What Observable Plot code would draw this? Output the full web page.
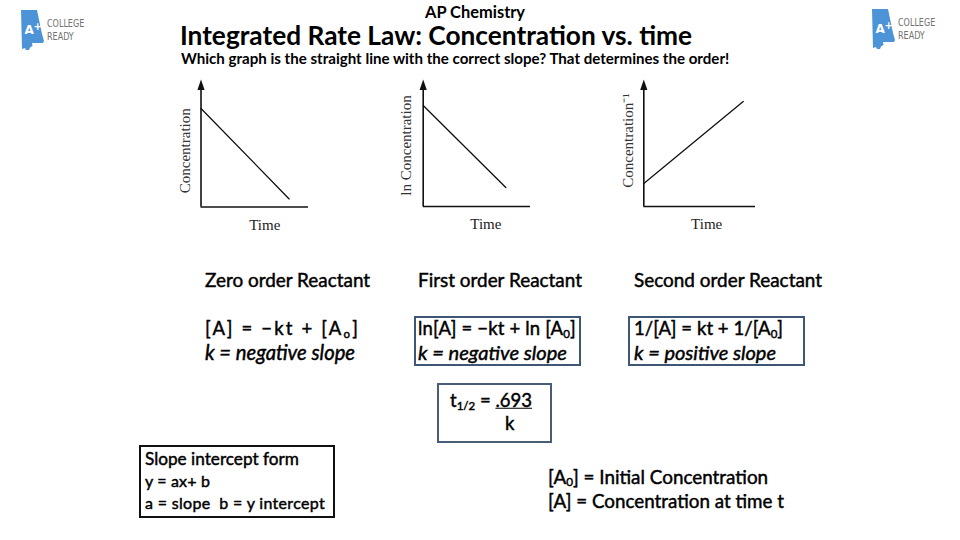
<!DOCTYPE html>
<html>
<head>
<meta charset="utf-8">
<script src="https://cdn.jsdelivr.net/npm/d3@7"></script>
<script src="https://cdn.jsdelivr.net/npm/@observablehq/plot@0.6"></script>
<style>
  html, body { margin: 0; padding: 0; background: #fff; }
  #slide { position: relative; width: 960px; height: 540px; overflow: hidden; background: #fff; font-family: Lato, "Open Sans", sans-serif; color: #000; }
  .t { position: absolute; white-space: nowrap; line-height: 1; transform: translateY(-50%); font-weight: normal; -webkit-text-stroke: 0.45px #000; }
  .t.b { font-weight: bold; -webkit-text-stroke: 0; }
  .box { position: absolute; box-sizing: border-box; }
  .chart { position: absolute; }
  .logo { position: absolute; }
  .logo .lt { position: absolute; font-family: "DejaVu Sans Condensed", "DejaVu Sans", sans-serif; color: #727272; font-size: 10.5px; line-height: 1; transform: scaleX(0.85); transform-origin: left top; white-space: nowrap; }
  sub { font-size: 0.62em; vertical-align: -0.25em; line-height: 0; }
</style>
</head>
<body>
<div id="slide"></div>
<script>
// ---- data ----
const timeZero = [0, 0.82];
const concZero = [0.817, 0.067];
const timeFirst = [0, 0.77];
const lnConcFirst = [0.842, 0.158];
const timeSecond = [0, 0.89];
const invConcSecond = [0.192, 0.875];
const xLabel = "Time";
const yLabels = ["Concentration", "ln Concentration", "Concentration\u207B\u00B9"];
const axisStart = 0;
const axisEnd = 1;

const slide = document.getElementById("slide");

// narrow filled arrowhead symbol
const arrowHead = {
  draw(context) {
    context.moveTo(0, -7);
    context.lineTo(3.6, 3.5);
    context.lineTo(-3.6, 3.5);
    context.closePath();
  }
};

function makeChart(cfg) {
  const data = cfg.t.map((t, i) => ({t, v: cfg.v[i]}));
  const svg = Plot.plot({
    width: cfg.width,
    height: cfg.height,
    marginLeft: cfg.mL,
    marginRight: cfg.mR,
    marginTop: cfg.mT,
    marginBottom: cfg.mB,
    x: {domain: [axisStart, axisEnd], axis: null},
    y: {domain: [axisStart, axisEnd], axis: null},
    style: {fontFamily: "'Liberation Serif', 'Times New Roman', serif", fontSize: "15px", color: "#111", background: "transparent", overflow: "visible"},
    marks: [
      Plot.ruleY([axisStart], {stroke: "#111", strokeWidth: 1.6}),
      Plot.ruleX([axisStart], {y1: axisStart, y2: axisEnd, stroke: "#111", strokeWidth: 1.6}),
      Plot.dot([{x: axisStart, y: axisEnd}], {x: "x", y: "y", symbol: arrowHead, fill: "#111", stroke: "none"}),
      Plot.line(data, {x: "t", y: "v", stroke: "#111", strokeWidth: 1.3}),
      Plot.text([xLabel], {frameAnchor: "bottom", textAnchor: "middle", lineAnchor: "middle", dy: 18, dx: cfg.tdx, fill: "#222", fontSize: 15}),
      Plot.text([cfg.ylabel], {frameAnchor: "left", textAnchor: "middle", lineAnchor: "middle", rotate: -90, dx: cfg.ldx, dy: cfg.ldy, fill: "#333", fontSize: 15})
    ]
  });
  const div = document.createElement("div");
  div.className = "chart";
  div.style.left = cfg.left + "px";
  div.style.top = cfg.top + "px";
  div.appendChild(svg);
  slide.appendChild(div);
}

makeChart({left: 170, top: 70, width: 150, height: 170, mL: 30.5, mR: 12, mT: 16, mB: 33.5, t: timeZero, v: concZero, ylabel: yLabels[0], tdx: 10, ldx: -16, ldy: 4});
makeChart({left: 390, top: 70, width: 150, height: 170, mL: 32.7, mR: 10, mT: 16, mB: 34, t: timeFirst, v: lnConcFirst, ylabel: yLabels[1], tdx: 9, ldx: -17, ldy: -1});
makeChart({left: 610, top: 70, width: 160, height: 170, mL: 33.3, mR: 15, mT: 16, mB: 34, t: timeSecond, v: invConcSecond, ylabel: yLabels[2], tdx: 7, ldx: -16, ldy: -6});

// ---- texts ----
// mode "size": scale font size to width; "ws": stretch word spacing; "ls": stretch letter spacing
function text(html, x, cy, w, size, cls, mode, extra) {
  const d = document.createElement("div");
  d.className = "t" + (cls ? " " + cls : "");
  d.innerHTML = html;
  d.style.left = x + "px";
  d.style.top = cy + "px";
  d.style.fontSize = size + "px";
  if (extra) Object.assign(d.style, extra);
  d.dataset.w = w;
  d.dataset.mode = mode || "size";
  slide.appendChild(d);
  return d;
}
function box(x, y, w, h, color) {
  const b = document.createElement("div");
  b.className = "box";
  Object.assign(b.style, {left: x + "px", top: y + "px", width: w + "px", height: h + "px", border: "2px solid " + color});
  slide.appendChild(b);
}

text("AP Chemistry", 425, 11.5, 100, 15, "b");
text("Integrated Rate Law: Concentration vs. time", 180, 35, 512, 27, "b");
text("Which graph is the straight line with the correct slope? That determines the order!", 181, 59, 548, 14, "b");

text("Zero order Reactant", 205, 280, 165, 17);
text("First order Reactant", 418, 280, 164, 17);
text("Second order Reactant", 634, 280, 188, 17);

text("[A] = \u2212kt + [A<sub>o</sub>]", 205, 328, 155, 18.5, "", "ls");
text("k = negative slope", 205, 352, 150, 17.5, "", "size", {fontStyle: "italic"});

box(414, 316, 167, 50, "#3e5777");
text("ln[A] = \u2212kt + ln [A<sub>0</sub>]", 418, 328, 158, 18.5, "", "ls");
text("k = negative slope", 418, 352, 149, 17.5, "", "size", {fontStyle: "italic"});

box(628, 316, 177, 50, "#3e5777");
text("1/[A] = kt + 1/[A<sub>0</sub>]", 634, 328, 149, 18.5, "", "ls");
text("k = positive slope", 634, 352, 142, 17.5, "", "size", {fontStyle: "italic"});

box(437, 383, 115, 60, "#4a5d78");
text("t<sub>1/2</sub> = <span style='text-decoration:underline'>.693</span>", 450, 400, 82, 18.5, "", "ls");
text("k", 505, 423, 10, 18.5, "", "none");

box(139, 445, 196, 73, "#111");
text("Slope intercept form", 145, 459, 154, 15);
text("y = ax+ b", 145, 481, 65, 16, "", "ls");
text("a = slope&nbsp; b = y intercept", 145, 503, 180, 16, "", "ls");

text("[A<sub>0</sub>] = Initial Concentration", 548, 477, 220, 18);
text("[A] = Concentration at time t", 548, 501, 236, 18);

// ---- logos ----
function logo(x, y) {
  const d = document.createElement("div");
  d.className = "logo";
  d.style.left = x + "px";
  d.style.top = y + "px";
  d.innerHTML = `<svg width="26" height="42" style="position:absolute;left:0;top:0">
    <path d="M0,0 L16,0 L21,24 L23,31 L22,33 L11,33 L11.5,36 L9,37.5 L8,40 L5,40 L4,38 L1,39 Z" fill="#4d93d8"/>
    <text x="3.5" y="24" fill="#fff" font-family="DejaVu Sans, sans-serif" font-weight="bold" font-size="12">A</text>
    <text x="12.5" y="20" fill="#fff" font-family="DejaVu Sans, sans-serif" font-weight="bold" font-size="10">+</text>
  </svg>
  <div class="lt" style="left:26px;top:8px">COLLEGE</div>
  <div class="lt" style="left:26px;top:21px">READY</div>`;
  slide.appendChild(d);
}
logo(21, 10);
logo(872, 9);

// fit each text line to its measured width in the reference
function fit() {
  slide.querySelectorAll(".t").forEach(el => {
    const target = +el.dataset.w;
    const mode = el.dataset.mode;
    if (mode === "none") return;
    if (mode === "ws" || mode === "ls") {
      el.style.wordSpacing = "0px";
      el.style.letterSpacing = "0px";
      const w = el.getBoundingClientRect().width;
      if (mode === "ws") {
        const spaces = (el.textContent.match(/[ \u00A0]/g) || []).length;
        if (spaces > 0) el.style.wordSpacing = ((target - w) / spaces).toFixed(2) + "px";
      } else {
        const n = el.textContent.length;
        if (n > 1) el.style.letterSpacing = ((target - w) / n).toFixed(2) + "px";
      }
      return;
    }
    const w = el.getBoundingClientRect().width;
    if (w > 0) {
      const fs = parseFloat(el.style.fontSize);
      el.style.fontSize = (fs * target / w).toFixed(2) + "px";
    }
  });
}
fit();
if (document.fonts && document.fonts.ready) document.fonts.ready.then(fit);
</script>
</body>
</html>
